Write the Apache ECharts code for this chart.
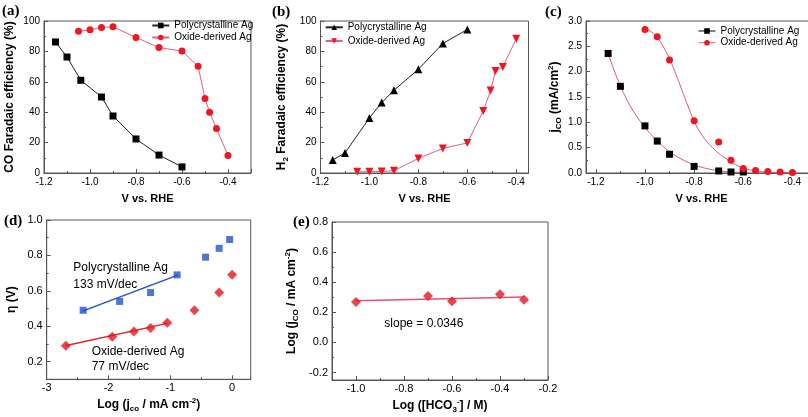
<!DOCTYPE html>
<html><head><meta charset="utf-8">
<script src="https://cdn.jsdelivr.net/npm/echarts@6/dist/echarts.min.js"></script>
<style>html,body{margin:0;padding:0;background:#fff}#c{width:808px;height:417px}</style>
</head><body><div id="c"></div>
<script>
// ---------- Panel (a): CO Faradaic efficiency ----------
const aPolyV  = [-1.15, -1.10, -1.04, -0.95, -0.90, -0.80, -0.70, -0.60];
const aPolyFE = [86.2, 76.3, 61.0, 50.0, 37.5, 22.4, 11.8, 4.0];
const aOxV    = [-1.05, -1.00, -0.95, -0.90, -0.80, -0.70, -0.60, -0.53, -0.50, -0.48, -0.45, -0.40];
const aOxFE   = [93.2, 94.2, 95.8, 96.2, 89.2, 82.5, 80.2, 70.2, 49.0, 40.0, 29.2, 11.5];
// ---------- Panel (b): H2 Faradaic efficiency ----------
const bPolyV  = [-1.15, -1.10, -1.00, -0.95, -0.90, -0.80, -0.70, -0.60];
const bPolyFE = [8.5, 13.2, 36.2, 46.3, 54.4, 68.2, 85.2, 94.4];
const bOxV    = [-1.05, -1.00, -0.95, -0.90, -0.80, -0.70, -0.60, -0.535, -0.505, -0.485, -0.455, -0.40];
const bOxFE   = [0.8, 0.9, 1.0, 1.5, 9.6, 16.2, 19.8, 40.8, 54.2, 67.1, 69.8, 88.3];
// ---------- Panel (c): jCO ----------
const cPolyV  = [-1.15, -1.10, -1.00, -0.95, -0.90, -0.80, -0.70, -0.65, -0.60];
const cPolyJ  = [2.36, 1.71, 0.93, 0.63, 0.37, 0.13, 0.04, 0.02, 0.02];
const cOxV    = [-1.00, -0.95, -0.90, -0.80, -0.70, -0.65, -0.60, -0.55, -0.50, -0.45, -0.40];
const cOxJ    = [2.83, 2.69, 2.23, 1.03, 0.61, 0.25, 0.09, 0.05, 0.03, 0.02, 0.01];
const cPolyFitV = [-1.15, -1.125, -1.10, -1.075, -1.05, -1.025, -1.00, -0.975, -0.95, -0.925, -0.90, -0.875, -0.85, -0.825, -0.80, -0.775, -0.75, -0.725, -0.70, -0.65, -0.60];
const cPolyFitJ = [2.36, 2.02, 1.72, 1.46, 1.24, 1.06, 0.90, 0.76, 0.63, 0.52, 0.42, 0.34, 0.27, 0.21, 0.16, 0.12, 0.09, 0.065, 0.045, 0.02, 0.01];
const cOxFitV = [-1.00, -0.975, -0.95, -0.925, -0.90, -0.875, -0.85, -0.825, -0.80, -0.775, -0.75, -0.725, -0.70, -0.675, -0.65, -0.625, -0.60, -0.575, -0.55, -0.50, -0.45, -0.40];
const cOxFitJ = [2.86, 2.79, 2.67, 2.49, 2.25, 1.96, 1.64, 1.32, 1.02, 0.80, 0.63, 0.50, 0.39, 0.30, 0.22, 0.15, 0.10, 0.065, 0.04, 0.02, 0.01, 0.005];
// ---------- Panel (d): Tafel ----------
const dPolyLogJ = [-2.41, -1.82, -1.32, -0.89, -0.43, -0.21, -0.04];
const dPolyEta  = [0.49, 0.54, 0.59, 0.69, 0.79, 0.84, 0.89];
const dOxLogJ   = [-2.69, -1.94, -1.59, -1.32, -1.05, -0.61, -0.21, 0.00];
const dOxEta    = [0.289, 0.341, 0.370, 0.390, 0.420, 0.490, 0.590, 0.690];
const dPolyFitX = [-2.42, -0.87];
const dPolyFitY = [0.485, 0.690];
const dOxFitX   = [-2.70, -1.05];
const dOxFitY   = [0.289, 0.416];
// ---------- Panel (e): log j vs log [HCO3-] ----------
const eLogHCO3 = [-1.00, -0.70, -0.60, -0.40, -0.30];
const eLogJ    = [0.268, 0.309, 0.274, 0.320, 0.283];
const eFitX    = [-1.00, -0.30];
const eFitY    = [0.276, 0.301];

const legendNames = {aPoly:'Polycrystalline Ag', aOx:'Oxide-derived Ag', bPoly:'Polycrystalline Ag', bOx:'Oxide-derived Ag', cPoly:'Polycrystalline Ag', cOx:'Oxide-derived Ag'};

const FONT = "'Liberation Sans', Arial, sans-serif";
const AX = '#555';
const RED = '#ee1620';
const PINK = '#e0607e';
const zip = (xs, ys) => xs.map((x, i) => [x, ys[i]]);
const f1 = v => v.toFixed(1);

const rich = {
  b: {fontFamily: FONT, fontWeight: 'bold', fontSize: 12, lineHeight: 16, color: '#000'},
  s: {fontFamily: FONT, fontWeight: 'bold', fontSize: 8, lineHeight: 16, verticalAlign: 'bottom', color: '#000'},
  p: {fontFamily: FONT, fontWeight: 'bold', fontSize: 8, lineHeight: 16, verticalAlign: 'top', color: '#000'}
};

function axis(o) {
  return Object.assign({
    type: 'value',
    nameLocation: 'middle',
    nameTextStyle: {fontFamily: FONT, fontWeight: 'bold', fontSize: 12, lineHeight: 16, color: '#000', rich: rich},
    axisLine: {show: true, onZero: false, lineStyle: {color: AX, width: 1}},
    axisTick: {show: true, inside: true, length: 4, lineStyle: {color: AX}},
    minorTick: {show: true, splitNumber: 2, length: 2, lineStyle: {color: AX}},
    splitLine: {show: false},
    minorSplitLine: {show: false},
    axisLabel: {color: '#000', fontFamily: FONT, fontSize: 10, margin: 4}
  }, o);
}
function grid(l, r, t, b) {
  return {left: l, right: r, top: t, bottom: b, show: true, borderColor: AX, borderWidth: 1, backgroundColor: 'transparent', containLabel: false, outerBoundsMode: 'none'};
}
function legend(left, top, gap, data) {
  return {orient: 'vertical', left: left, top: top, padding: 0, itemGap: gap, itemWidth: 17, itemHeight: 7,
    selectedMode: false, data: data,
    formatter: n => legendNames[n],
    textStyle: {fontFamily: FONT, fontSize: 10, color: '#000', lineHeight: 11}};
}

const option = {
  animation: false,
  backgroundColor: '#fff',
  grid: [grid(44, 557, 21, 244), grid(320.5, 279.5, 21, 244), grid(586, -9, 21, 244), grid(46.7, 557.3, 220, 37.7), grid(332, 260, 222, 37)],
  xAxis: [
    axis({gridIndex: 0, min: -1.2, max: -0.3, interval: 0.2, name: 'V vs. RHE', nameGap: 18,
      nameTextStyle: {fontFamily: FONT, fontWeight: 'bold', fontSize: 11, lineHeight: 16, color: '#000'},
      axisLabel: {color: '#000', fontFamily: FONT, fontSize: 10, margin: 4, formatter: f1, showMaxLabel: false}}),
    axis({gridIndex: 1, min: -1.2, max: -0.35, interval: 0.2, name: 'V vs. RHE', nameGap: 18,
      nameTextStyle: {fontFamily: FONT, fontWeight: 'bold', fontSize: 11, lineHeight: 16, color: '#000'},
      axisLabel: {color: '#000', fontFamily: FONT, fontSize: 10, margin: 4, formatter: f1, showMaxLabel: false}}),
    axis({gridIndex: 2, min: -1.24, max: -0.3, minInterval: 0.2, maxInterval: 0.2, splitNumber: 5, name: 'V vs. RHE', nameGap: 18,
      nameTextStyle: {fontFamily: FONT, fontWeight: 'bold', fontSize: 11, lineHeight: 16, color: '#000'},
      axisLabel: {color: '#000', fontFamily: FONT, fontSize: 10, margin: 4, formatter: f1, showMaxLabel: false, showMinLabel: false}}),
    axis({gridIndex: 3, min: -3, max: 0.3, interval: 1, name: '{b|Log (j}{s|co}{b| / mA cm}{p|-2}{b|)}', nameGap: 17,
      minorTick: {show: true, splitNumber: 2, length: 2, lineStyle: {color: AX}},
      axisLabel: {color: '#000', fontFamily: FONT, fontSize: 11, margin: 3, showMaxLabel: false}}),
    axis({gridIndex: 4, min: -1.1, max: -0.2, minInterval: 0.2, maxInterval: 0.2, splitNumber: 5, name: '{b|Log ([HCO}{s|3}{p|-}{b|] / M)}', nameGap: 18,
      axisLabel: {color: '#000', fontFamily: FONT, fontSize: 11, margin: 3, formatter: f1, showMinLabel: false}})
  ],
  yAxis: [
    axis({gridIndex: 0, min: 0, max: 100, interval: 20, name: 'CO Faradaic efficiency (%)', nameGap: 26,
      axisLabel: {color: '#000', fontFamily: FONT, fontSize: 10, margin: 4}}),
    axis({gridIndex: 1, min: 0, max: 100, interval: 20, name: '{b|H}{s|2}{b| Faradaic efficiency (%)}', nameGap: 31,
      axisLabel: {color: '#000', fontFamily: FONT, fontSize: 10, margin: 4}}),
    axis({gridIndex: 2, min: 0, max: 3, interval: 0.5, name: '{b|j}{s|CO}{b| (mA/cm}{p|2}{b|)}', nameGap: 23,
      axisLabel: {color: '#000', fontFamily: FONT, fontSize: 10, margin: 4, formatter: f1}}),
    axis({gridIndex: 3, min: 0.1, max: 1.0, minInterval: 0.2, maxInterval: 0.2, splitNumber: 5, name: 'η (V)', nameGap: 27,
      axisLabel: {color: '#000', fontFamily: FONT, fontSize: 11, margin: 4, formatter: f1, showMinLabel: false}}),
    axis({gridIndex: 4, min: -0.25, max: 0.8, minInterval: 0.2, maxInterval: 0.2, splitNumber: 5, name: '{b|Log (j}{s|CO}{b| / mA cm}{p|-2}{b|)}', nameGap: 32,
      axisLabel: {color: '#000', fontFamily: FONT, fontSize: 11, margin: 4, formatter: f1, showMinLabel: false}})
  ],
  legend: [
    legend(151.3, 20, 1, ['aPoly', 'aOx']),
    legend(324.7, 21.8, 2.7, ['bPoly', 'bOx']),
    legend(698, 25.5, 0.7, [
      {name: 'cPoly', lineStyle: {opacity: 1, width: 1, color: '#000'}},
      {name: 'cOx', lineStyle: {opacity: 1, width: 1, color: PINK}}])
  ],
  series: [
    {name: 'aPoly', type: 'line', xAxisIndex: 0, yAxisIndex: 0, data: zip(aPolyV, aPolyFE), symbol: 'rect', symbolSize: 7,
      itemStyle: {color: '#000'}, lineStyle: {color: '#222', width: 1}},
    {name: 'aOx', type: 'line', xAxisIndex: 0, yAxisIndex: 0, data: zip(aOxV, aOxFE), symbol: 'circle', symbolSize: 7,
      itemStyle: {color: RED}, lineStyle: {color: PINK, width: 1}},
    {name: 'bPoly', type: 'line', xAxisIndex: 1, yAxisIndex: 1, data: zip(bPolyV, bPolyFE), symbol: 'triangle', symbolSize: 8,
      itemStyle: {color: '#000'}, lineStyle: {color: '#222', width: 1}},
    {name: 'bOx', type: 'line', xAxisIndex: 1, yAxisIndex: 1, data: zip(bOxV, bOxFE), symbol: 'triangle', symbolRotate: 180, symbolSize: 8,
      itemStyle: {color: RED}, lineStyle: {color: PINK, width: 1}},
    {name: 'cPolyFit', type: 'line', xAxisIndex: 2, yAxisIndex: 2, data: zip(cPolyFitV, cPolyFitJ), showSymbol: false, smooth: true,
      lineStyle: {color: '#d9507a', width: 1}, z: 1},
    {name: 'cOxFit', type: 'line', xAxisIndex: 2, yAxisIndex: 2, data: zip(cOxFitV, cOxFitJ), showSymbol: false, smooth: true,
      lineStyle: {color: '#d9507a', width: 1}, z: 1},
    {name: 'cPoly', type: 'line', xAxisIndex: 2, yAxisIndex: 2, data: zip(cPolyV, cPolyJ), symbol: 'rect', symbolSize: 7,
      itemStyle: {color: '#000'}, lineStyle: {opacity: 0}, z: 3},
    {name: 'cOx', type: 'line', xAxisIndex: 2, yAxisIndex: 2, data: zip(cOxV, cOxJ), symbol: 'circle', symbolSize: 7,
      itemStyle: {color: RED}, lineStyle: {opacity: 0}, z: 3},
    {name: 'dPolyFit', type: 'line', xAxisIndex: 3, yAxisIndex: 3, data: zip(dPolyFitX, dPolyFitY), showSymbol: false,
      lineStyle: {color: '#1f4fd2', width: 1.5}, z: 1},
    {name: 'dOxFit', type: 'line', xAxisIndex: 3, yAxisIndex: 3, data: zip(dOxFitX, dOxFitY), showSymbol: false,
      lineStyle: {color: '#e8202a', width: 1.5}, z: 1},
    {name: 'dPoly', type: 'scatter', xAxisIndex: 3, yAxisIndex: 3, data: zip(dPolyLogJ, dPolyEta), symbol: 'rect', symbolSize: 7,
      itemStyle: {color: '#2252c9'}, z: 3},
    {name: 'dOx', type: 'scatter', xAxisIndex: 3, yAxisIndex: 3, data: zip(dOxLogJ, dOxEta), symbol: 'diamond', symbolSize: 10,
      itemStyle: {color: '#e8141e'}, z: 3},
    {name: 'eFit', type: 'line', xAxisIndex: 4, yAxisIndex: 4, data: zip(eFitX, eFitY), showSymbol: false,
      lineStyle: {color: '#e6507a', width: 1.5}, z: 1},
    {name: 'ePts', type: 'scatter', xAxisIndex: 4, yAxisIndex: 4, data: zip(eLogHCO3, eLogJ), symbol: 'diamond', symbolSize: 10,
      itemStyle: {color: '#e8141e'}, z: 3}
  ],
  graphic: [
    {type: 'text', x: 2, y: 11, style: {text: '(a)', font: "bold 15px 'Liberation Serif', serif", fill: '#000', verticalAlign: 'middle'}},
    {type: 'text', x: 272, y: 12, style: {text: '(b)', font: "bold 15px 'Liberation Serif', serif", fill: '#000', verticalAlign: 'middle'}},
    {type: 'text', x: 545, y: 12, style: {text: '(c)', font: "bold 15px 'Liberation Serif', serif", fill: '#000', verticalAlign: 'middle'}},
    {type: 'text', x: 4, y: 221, style: {text: '(d)', font: "bold 15px 'Liberation Serif', serif", fill: '#000', verticalAlign: 'middle'}},
    {type: 'text', x: 293, y: 222, style: {text: '(e)', font: "bold 15px 'Liberation Serif', serif", fill: '#000', verticalAlign: 'middle'}},
    {type: 'text', x: 73.3, y: 268, style: {text: 'Polycrystalline Ag', font: "12px 'Liberation Sans', Arial", fill: '#000', verticalAlign: 'middle'}},
    {type: 'text', x: 73.3, y: 285, style: {text: '133 mV/dec', font: "12px 'Liberation Sans', Arial", fill: '#000', verticalAlign: 'middle'}},
    {type: 'text', x: 91.7, y: 351.7, style: {text: 'Oxide-derived Ag', font: "12px 'Liberation Sans', Arial", fill: '#000', verticalAlign: 'middle'}},
    {type: 'text', x: 91.7, y: 367, style: {text: '77 mV/dec', font: "12px 'Liberation Sans', Arial", fill: '#000', verticalAlign: 'middle'}},
    {type: 'text', x: 384.3, y: 324, style: {text: 'slope = 0.0346', font: "12px 'Liberation Sans', Arial", fill: '#000', verticalAlign: 'middle'}}
  ]
};
const chart = echarts.init(document.getElementById('c'), null, {renderer: 'canvas'});
chart.setOption(option);
</script>
</body></html>
